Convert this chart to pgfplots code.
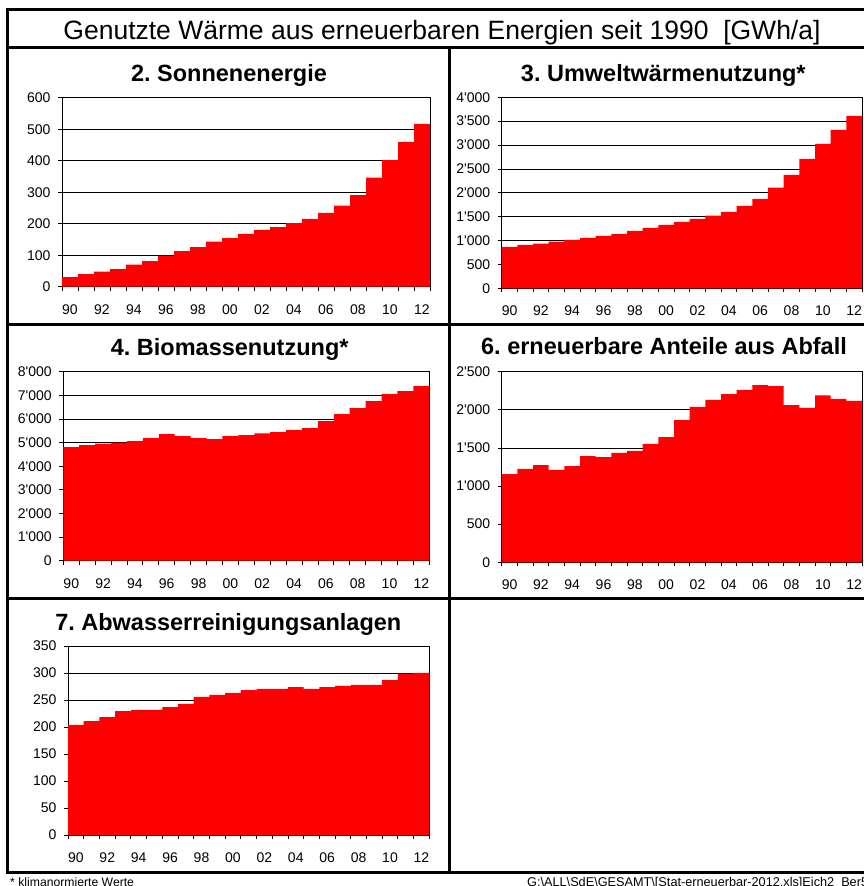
\documentclass[border=0pt]{standalone}
\usepackage{pgfplots}
\pgfplotsset{compat=1.18}
\usepackage{fontspec}
\setmainfont{Liberation Sans}
\frenchspacing

\pgfplotsset{
  panel/.style={
    scale only axis,
    anchor=south west,
    xmin=-0.5, xmax=22.5,
    ymin=0,
    xtick={-0.5,0.5,...,22.5},
    xticklabels={},
    extra x ticks={0,2,...,22},
    extra x tick labels={90,92,94,96,98,00,02,04,06,08,10,12},
    extra x tick style={major tick length=0pt},
    tick align=outside,
    tick pos=left,
    major tick length=4pt,
    ymajorgrids,
    grid style={black, line width=0.8pt},
    axis line style={black, line width=0.8pt},
    tick style={black, line width=0.8pt},
    every tick label/.append style={font=\fontsize{14}{16}\selectfont},
    xticklabel style={yshift=-14pt},
    yticklabel style={xshift=-4pt},
  },
  bars/.style={ybar, bar width=1, fill=red, draw=none},
}
\newcommand{\q}{\textquotesingle}

\begin{document}
\begin{tikzpicture}[x=1pt,y=1pt]
\useasboundingbox (0,0) rectangle (864,886);
\clip (0,0) rectangle (864,886);

% Panel 2: Sonnenenergie
\begin{axis}[panel, at={(62pt,599.3pt)}, width=368pt, height=189pt,
  ymax=600, ytick={0,100,...,600}, yticklabels={0,100,200,300,400,500,600}]
\addplot[bars] coordinates {(0,30) (1,40) (2,48) (3,56) (4,70) (5,81) (6,98) (7,113) (8,126) (9,143) (10,154) (11,168) (12,180) (13,189) (14,202) (15,215) (16,234) (17,257) (18,291) (19,346) (20,402) (21,460) (22,517)};
\end{axis}

% Panel 3: Umweltwaermenutzung
\begin{axis}[panel, at={(501.7pt,597.7pt)}, width=360.3pt, height=191pt,
  ymax=4000, ytick={0,500,...,4000},
  yticklabels={0,500,1\q000,1\q500,2\q000,2\q500,3\q000,3\q500,4\q000}]
\addplot[bars] coordinates {(0,865) (1,907) (2,935) (3,977) (4,1012) (5,1054) (6,1096) (7,1138) (8,1200) (9,1263) (10,1326) (11,1389) (12,1452) (13,1522) (14,1598) (15,1724) (16,1871) (17,2108) (18,2373) (19,2708) (20,3022) (21,3316) (22,3609)};
\end{axis}

% Panel 4: Biomassenutzung
\begin{axis}[panel, at={(63.3pt,325.3pt)}, width=366pt, height=189pt,
  ymax=8000, ytick={0,1000,...,8000},
  yticklabels={0,1\q000,2\q000,3\q000,4\q000,5\q000,6\q000,7\q000,8\q000}]
\addplot[bars] coordinates {(0,4811) (1,4896) (2,4953) (3,4995) (4,5065) (5,5192) (6,5362) (7,5277) (8,5192) (9,5150) (10,5277) (11,5319) (12,5390) (13,5446) (14,5531) (15,5616) (16,5912) (17,6208) (18,6462) (19,6759) (20,7055) (21,7182) (22,7394)};
\end{axis}

% Panel 6: erneuerbare Anteile aus Abfall
\begin{axis}[panel, at={(501.7pt,323.7pt)}, width=360.3pt, height=190.6pt,
  ymax=2500, ytick={0,500,...,2500},
  yticklabels={0,500,1\q000,1\q500,2\q000,2\q500}]
\addplot[bars] coordinates {(0,1158) (1,1224) (2,1276) (3,1211) (4,1263) (5,1394) (6,1381) (7,1434) (8,1460) (9,1552) (10,1643) (11,1866) (12,2037) (13,2129) (14,2207) (15,2260) (16,2325) (17,2312) (18,2063) (19,2024) (20,2190) (21,2142) (22,2116)};
\end{axis}

% Panel 7: Abwasserreinigungsanlagen
\begin{axis}[panel, at={(68pt,51pt)}, width=361.3pt, height=189pt,
  ymax=350, ytick={0,50,...,350}, yticklabels={0,50,100,150,200,250,300,350}]
\addplot[bars] coordinates {(0,204) (1,211) (2,218.5) (3,229.6) (4,231.5) (5,231.5) (6,237) (7,242.6) (8,255.6) (9,259.3) (10,263) (11,268.5) (12,270.4) (13,270.4) (14,274) (15,270.4) (16,274) (17,276) (18,277.8) (19,277.8) (20,287) (21,298.8) (22,300)};
\end{axis}

% Frame
\draw[line width=3pt] (7,876.5) rectangle (870,13.2);
\draw[line width=3pt] (7,838.5) -- (870,838.5);
\draw[line width=3pt] (7,561.5) -- (870,561.5);
\draw[line width=3pt] (7,287) -- (870,287);
\draw[line width=3pt] (449,838.5) -- (449,13.2);

% Titles
\node[anchor=base, font=\fontsize{26.5}{30}\selectfont, inner sep=0pt] at (442,846) {Genutzte Wärme aus erneuerbaren Energien seit 1990\ \ [GWh/a]};
\node[anchor=base, font=\fontsize{23.5}{26}\selectfont\bfseries, inner sep=0pt] at (229,804.3) {2. Sonnenenergie};
\node[anchor=base, font=\fontsize{23.5}{26}\selectfont\bfseries, inner sep=0pt] at (663.3,804.3) {3. Umweltwärmenutzung*};
\node[anchor=base, font=\fontsize{23.5}{26}\selectfont\bfseries, inner sep=0pt] at (229.7,530) {4. Biomassenutzung*};
\node[anchor=base, font=\fontsize{23.5}{26}\selectfont\bfseries, inner sep=0pt] at (664,531) {6. erneuerbare Anteile aus Abfall};
\node[anchor=base, font=\fontsize{23.5}{26}\selectfont\bfseries, inner sep=0pt] at (228.3,255.3) {7. Abwasserreinigungsanlagen};

% Footer
\node[anchor=base west, font=\fontsize{12.2}{14}\selectfont, inner sep=0pt] at (10,-0.5) {* klimanormierte Werte};
\node[anchor=base west, font=\fontsize{12.7}{14}\selectfont, inner sep=0pt] at (527,-0.5) {G:\textbackslash ALL\textbackslash SdE\textbackslash GESAMT\textbackslash [Stat-erneuerbar-2012.xls]Eich2\hspace{7pt}Ber5};
\end{tikzpicture}
\end{document}
